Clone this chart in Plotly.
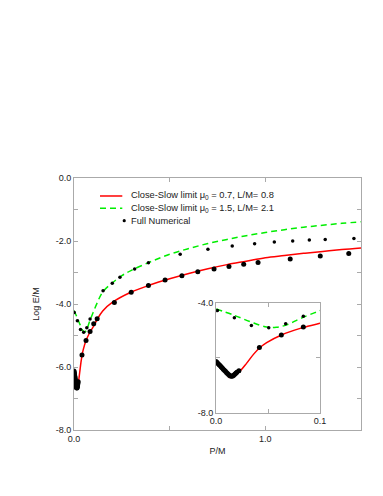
import plotly.graph_objects as go

# Close-Slow limit mu0=0.7, L/M=0.8 (red solid)
red_x = [0.012, 0.0167, 0.0231, 0.0295, 0.036, 0.0423, 0.0487, 0.063, 0.081, 0.1, 0.12, 0.15,
         0.2, 0.3, 0.4, 0.5, 0.6, 0.7, 0.8, 0.9, 1.0, 1.1, 1.2, 1.3, 1.4, 1.5]
red_y = [-6.72, -6.66, -6.48, -6.19, -5.87, -5.62, -5.44, -5.16, -4.92, -4.73, -4.5, -4.22,
         -3.95, -3.62, -3.39, -3.2, -3.03, -2.88, -2.75, -2.64, -2.53, -2.46, -2.39, -2.33, -2.27, -2.22]

# Close-Slow limit mu0=1.5, L/M=2.1 (green dashed)
green_x = [0.0, 0.0167, 0.0327, 0.0487, 0.058, 0.068, 0.081, 0.1, 0.12, 0.15, 0.2, 0.25,
           0.3, 0.4, 0.5, 0.6, 0.7, 0.8, 0.9, 1.0, 1.1, 1.2, 1.3, 1.4, 1.5]
green_y = [-4.21, -4.43, -4.67, -4.87, -4.88, -4.79, -4.56, -4.27, -3.98, -3.62, -3.33, -3.1,
           -2.93, -2.66, -2.42, -2.24, -2.08, -1.95, -1.83, -1.73, -1.64, -1.56, -1.5, -1.44, -1.39]

# Full numerical (large dots, near red curve)
num_big_x = [0.000, 0.001, 0.002, 0.003, 0.004, 0.005, 0.006, 0.007, 0.008, 0.009, 0.010,
             0.011, 0.012, 0.013, 0.014, 0.015, 0.016, 0.017, 0.018, 0.019, 0.020, 0.022,
             0.0417, 0.0628, 0.084, 0.103, 0.121, 0.211, 0.299, 0.389, 0.476, 0.564, 0.647,
             0.732, 0.81, 0.887, 0.962, 1.13, 1.287, 1.436]
num_big_y = [-6.13, -6.17, -6.21, -6.25, -6.29, -6.33, -6.37, -6.41, -6.45, -6.49, -6.53,
             -6.57, -6.61, -6.64, -6.66, -6.67, -6.66, -6.63, -6.60, -6.56, -6.52, -6.47,
             -5.62, -5.16, -4.87, -4.63, -4.47, -3.95, -3.63, -3.41, -3.24, -3.10, -2.98,
             -2.89, -2.81, -2.74, -2.68, -2.57, -2.48, -2.40]

# Full numerical (small dots, near green curve)
num_small_x = [0.0013, 0.0176, 0.034, 0.0507, 0.067, 0.084, 0.152, 0.2, 0.24, 0.317, 0.389,
               0.555, 0.70, 0.827, 0.944, 1.047, 1.143, 1.23, 1.313, 1.463]
num_small_y = [-4.27, -4.53, -4.81, -4.90, -4.75, -4.48, -3.58, -3.34, -3.15, -2.89, -2.69,
               -2.42, -2.26, -2.16, -2.09, -2.03, -2.0, -1.97, -1.95, -1.92]

main_yticks = [0, -1, -2, -3, -4, -5, -6, -7, -8]
main_yticktext = ["0.0", "", "-2.0", "", "-4.0", "", "-6.0", "", "-8.0"]
main_xticks = [0.0, 0.5, 1.0, 1.5]
main_xticktext = ["0.0", "", "1.0", ""]
inset_xticks = [0.0, 0.05, 0.1]
inset_xticktext = ["0.0", "", "0.1"]
inset_yticks = [-4, -6, -8]
inset_yticktext = ["-4.0", "", "-8.0"]

legend_labels = ["Close-Slow limit μ<sub>0</sub> = 0.7, L/M= 0.8",
                 "Close-Slow limit μ<sub>0</sub> = 1.5, L/M= 2.1",
                 "Full Numerical"]

RED = "#ff0000"
GREEN = "#00ee00"
FONT = "Liberation Sans, Arial, sans-serif"
TXT = "#222222"

fig = go.Figure()
for xa, ya in [("x", "y"), ("x2", "y2")]:
    fig.add_trace(go.Scatter(x=red_x, y=red_y, mode="lines", xaxis=xa, yaxis=ya,
                             line=dict(color=RED, width=1.5, shape="spline"),
                             name=legend_labels[0], showlegend=False))
    fig.add_trace(go.Scatter(x=green_x, y=green_y, mode="lines", xaxis=xa, yaxis=ya,
                             line=dict(color=GREEN, width=1.5, dash="6px,4px", shape="spline"),
                             name=legend_labels[1], showlegend=False))
    fig.add_trace(go.Scatter(x=num_small_x, y=num_small_y, mode="markers", xaxis=xa, yaxis=ya,
                             marker=dict(color="black", size=3.5),
                             name=legend_labels[2], showlegend=False))
    fig.add_trace(go.Scatter(x=num_big_x, y=num_big_y, mode="markers", xaxis=xa, yaxis=ya,
                             marker=dict(color="black", size=5),
                             name=legend_labels[2], showlegend=False))

# manual legend (compact rows like the original)
leg_rows = [0.9286, 0.8798, 0.8306]
leg_x0, leg_x1, leg_tx = 0.0906, 0.1683, 0.190
shapes = [
    dict(type="line", xref="paper", yref="paper", x0=leg_x0, x1=leg_x1, y0=leg_rows[0], y1=leg_rows[0],
         line=dict(color=RED, width=1.5)),
    dict(type="line", xref="paper", yref="paper", x0=leg_x0, x1=leg_x1, y0=leg_rows[1], y1=leg_rows[1],
         line=dict(color=GREEN, width=1.5, dash="6px,4px")),
    dict(type="circle", xref="paper", yref="paper", xsizemode="pixel", ysizemode="pixel",
         xanchor=0.175, yanchor=leg_rows[2], x0=-1.6, x1=1.6, y0=-1.6, y1=1.6,
         fillcolor="black", line=dict(color="black", width=0)),
]
annotations = [dict(xref="paper", yref="paper", x=leg_tx, y=yy, text=t, showarrow=False,
                    xanchor="left", yanchor="middle", font=dict(family=FONT, size=9.3, color=TXT))
               for yy, t in zip(leg_rows, legend_labels)]

axis_common = dict(showgrid=False, zeroline=False, showline=True, linecolor="#aaaaaa",
                   linewidth=1, mirror="ticks", ticks="inside", ticklen=4, tickcolor="#aaaaaa",
                   tickfont=dict(family=FONT, size=9, color=TXT))

fig.update_layout(
    width=383, height=496,
    margin=dict(l=74, r=22, t=178, b=66),
    paper_bgcolor="white", plot_bgcolor="white",
    font=dict(family=FONT, size=9, color=TXT),
    xaxis=dict(range=[0, 1.5], tickvals=main_xticks, ticktext=main_xticktext,
               title=dict(text="P/M", font=dict(size=9), standoff=4), domain=[0, 1], **axis_common),
    yaxis=dict(range=[-8, 0], tickvals=main_yticks, ticktext=main_yticktext,
               title=dict(text="Log E/M", font=dict(size=9), standoff=14), domain=[0, 1], **axis_common),
    xaxis2=dict(range=[0, 0.1], tickvals=inset_xticks, ticktext=inset_xticktext,
                domain=[0.495, 0.857], anchor="y2", **axis_common),
    yaxis2=dict(range=[-8, -4], tickvals=inset_yticks, ticktext=inset_yticktext,
                domain=[0.069, 0.503], anchor="x2", **axis_common),
    shapes=shapes,
    annotations=annotations,
    showlegend=False,
)

fig.write_html("out.html", config={"displayModeBar": False},
               post_script="document.body.style.margin='0px';")
